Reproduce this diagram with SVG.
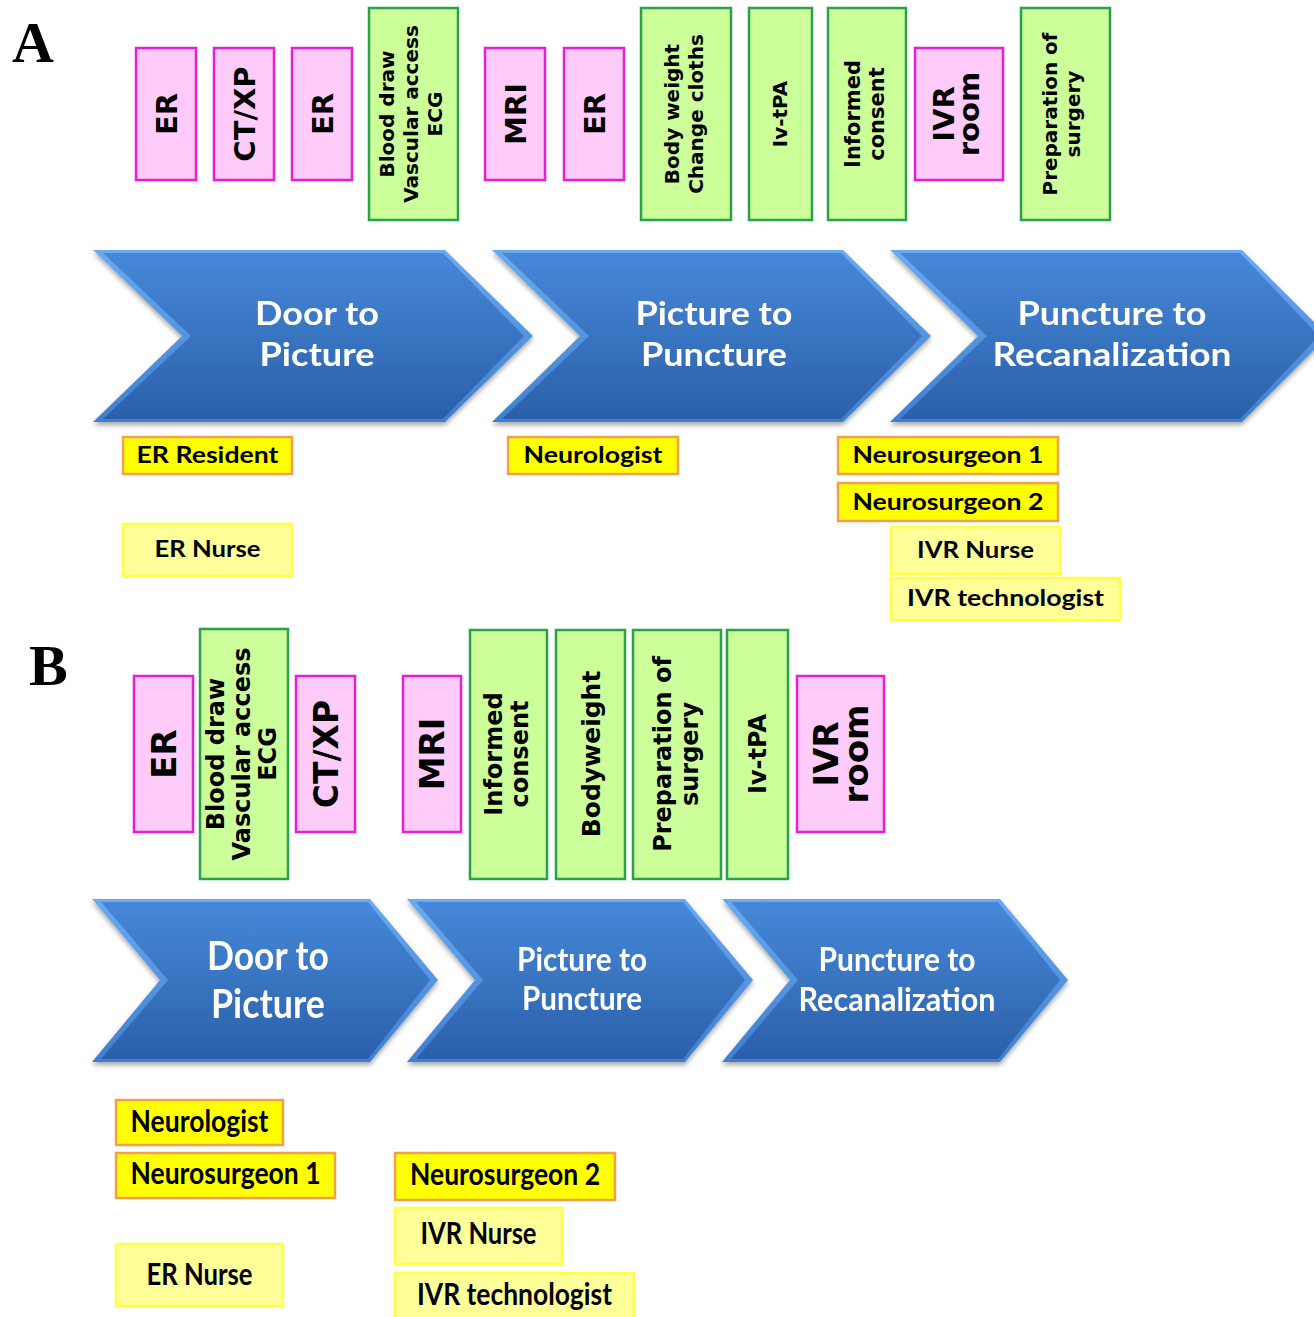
<svg xmlns="http://www.w3.org/2000/svg" width="1314" height="1317" viewBox="0 0 1314 1317">
<style>
.pink{fill:#ffccfa;stroke:#e61ed7;stroke-width:2.5}
.green{fill:#ccff99;stroke:#2aa24a;stroke-width:2.5}
.vt{font-family:"DejaVu Sans",sans-serif;font-weight:bold;fill:#000;text-anchor:middle}
.lblO{fill:#ffff00;stroke:#f0a050;stroke-width:2.5}
.lblY{fill:#ffff99;stroke:#ffff44;stroke-width:2.5}
.lt{font-family:Lato,"Open Sans",sans-serif;font-weight:bold;fill:#000;text-anchor:middle}
.ct{font-family:Lato,"Open Sans",sans-serif;font-weight:bold;fill:#fff;text-anchor:middle}
.panel{font-family:"Liberation Serif",serif;font-weight:bold;font-size:58px;fill:#000}
.bev{fill:url(#bevel)}
.body{fill:url(#blue)}
</style>
<defs>
<linearGradient id="blue" x1="0" y1="0" x2="0" y2="1">
<stop offset="0" stop-color="#4688d8"/>
<stop offset="1" stop-color="#2b60aa"/>
</linearGradient>
<linearGradient id="bevel" x1="0" y1="0" x2="0" y2="1">
<stop offset="0" stop-color="#6aaaf0"/>
<stop offset="1" stop-color="#3f7fcf"/>
</linearGradient>
<filter id="sh" x="-5%" y="-5%" width="110%" height="115%">
<feDropShadow dx="0" dy="3" stdDeviation="2.5" flood-color="#000" flood-opacity="0.35"/>
</filter>
</defs>
<rect width="1314" height="1317" fill="#fff"/>

<text class="panel" x="12" y="62">A</text>
<text class="panel" x="29" y="685">B</text>

<!-- Panel A top boxes -->
<g id="a-er1"><rect class="pink" x="136" y="48" width="60" height="132"/><text class="vt" font-size="29" transform="translate(166,114) rotate(-90)" y="10.5">ER</text></g>
<g id="a-ctxp"><rect class="pink" x="214" y="48" width="60" height="132"/><text class="vt" font-size="29" transform="translate(244,114) rotate(-90)" y="10.5">CT/XP</text></g>
<g id="a-er2"><rect class="pink" x="292" y="48" width="60" height="132"/><text class="vt" font-size="29" transform="translate(322,114) rotate(-90)" y="10.5">ER</text></g>
<g id="a-blood"><rect class="green" x="369" y="8" width="89" height="212"/><text class="vt" font-size="20" transform="translate(411,114) rotate(-90)"><tspan x="0" y="-17">Blood draw</tspan><tspan x="0" y="7">Vascular access</tspan><tspan x="0" y="31">ECG</tspan></text></g>
<g id="a-mri"><rect class="pink" x="485" y="48" width="60" height="132"/><text class="vt" font-size="29" transform="translate(515,114) rotate(-90)" y="10.5">MRI</text></g>
<g id="a-er3"><rect class="pink" x="564" y="48" width="60" height="132"/><text class="vt" font-size="29" transform="translate(594,114) rotate(-90)" y="10.5">ER</text></g>
<g id="a-body"><rect class="green" x="641" y="8" width="90" height="212"/><text class="vt" font-size="20" transform="translate(684,114) rotate(-90)"><tspan x="0" y="-5">Body weight</tspan><tspan x="0" y="19">Change cloths</tspan></text></g>
<g id="a-ivtpa"><rect class="green" x="749" y="8" width="63" height="212"/><text class="vt" font-size="20" transform="translate(780,114) rotate(-90)" y="7">Iv-tPA</text></g>
<g id="a-consent"><rect class="green" x="828" y="8" width="78" height="212"/><text class="vt" font-size="21" transform="translate(865,114) rotate(-90)"><tspan x="0" y="-5">Informed</tspan><tspan x="0" y="19">consent</tspan></text></g>
<g id="a-ivr"><rect class="pink" x="915" y="48" width="88" height="132"/><text class="vt" font-size="29" transform="translate(959,114) rotate(-90)"><tspan x="0" y="-5">IVR</tspan><tspan x="0" y="20">room</tspan></text></g>
<g id="a-prep"><rect class="green" x="1021" y="8" width="89" height="212"/><text class="vt" font-size="20" transform="translate(1065,114) rotate(-90)"><tspan x="0" y="-8">Preparation of</tspan><tspan x="0" y="15">surgery</tspan></text></g>

<!-- Panel A chevrons -->
<g id="a-chev1" filter="url(#sh)">
<polygon class="bev" points="93,250 445,250 533,336 445,422 93,422 182,336"/>
<polygon class="body" points="103,253 443,253 524,336 443,419 103,419 191,336"/>
<text class="ct" font-size="32"><tspan x="317" y="325" textLength="124" lengthAdjust="spacingAndGlyphs">Door to</tspan><tspan x="317" y="366" textLength="115" lengthAdjust="spacingAndGlyphs">Picture</tspan></text>
</g>
<g id="a-chev2" filter="url(#sh)">
<polygon class="bev" points="492,250 843,250 931,336 843,422 492,422 580,336"/>
<polygon class="body" points="502,253 841,253 922,336 841,419 502,419 589,336"/>
<text class="ct" font-size="32"><tspan x="714" y="325" textLength="157" lengthAdjust="spacingAndGlyphs">Picture to</tspan><tspan x="714" y="366" textLength="146" lengthAdjust="spacingAndGlyphs">Puncture</tspan></text>
</g>
<g id="a-chev3" filter="url(#sh)">
<polygon class="bev" points="890,250 1242,250 1328,336 1242,422 890,422 978,336"/>
<polygon class="body" points="900,253 1240,253 1319,336 1240,419 900,419 987,336"/>
<text class="ct" font-size="32"><tspan x="1112" y="325" textLength="189" lengthAdjust="spacingAndGlyphs">Puncture to</tspan><tspan x="1112" y="366" textLength="239" lengthAdjust="spacingAndGlyphs">Recanalization</tspan></text>
</g>

<!-- Panel A staff -->
<g id="a-erres"><rect class="lblO" x="123" y="437" width="169" height="37"/><text class="lt" font-size="23" x="207.5" y="463" textLength="142" lengthAdjust="spacingAndGlyphs">ER Resident</text></g>
<g id="a-neuro"><rect class="lblO" x="508" y="437" width="170" height="37"/><text class="lt" font-size="23" x="593" y="463" textLength="139" lengthAdjust="spacingAndGlyphs">Neurologist</text></g>
<g id="a-ns1"><rect class="lblO" x="838" y="437" width="220" height="37"/><text class="lt" font-size="23" x="948" y="463" textLength="191" lengthAdjust="spacingAndGlyphs">Neurosurgeon 1</text></g>
<g id="a-ns2"><rect class="lblO" x="838" y="483" width="220" height="38"/><text class="lt" font-size="23" x="948" y="510" textLength="191" lengthAdjust="spacingAndGlyphs">Neurosurgeon 2</text></g>
<g id="a-ernurse"><rect class="lblY" x="123" y="524" width="169" height="52"/><text class="lt" font-size="23" x="207.5" y="557" textLength="106" lengthAdjust="spacingAndGlyphs">ER Nurse</text></g>
<g id="a-ivrnurse"><rect class="lblY" x="891" y="527" width="169" height="47"/><text class="lt" font-size="23" x="975.5" y="558" textLength="117" lengthAdjust="spacingAndGlyphs">IVR Nurse</text></g>
<g id="a-ivrtech"><rect class="lblY" x="891" y="578" width="229" height="42"/><text class="lt" font-size="23" x="1005.5" y="606" textLength="197" lengthAdjust="spacingAndGlyphs">IVR technologist</text></g>

<!-- Panel B top boxes -->
<g id="b-er"><rect class="pink" x="134" y="676" width="59" height="156"/><text class="vt" font-size="34" transform="translate(163.5,754) rotate(-90)" y="12">ER</text></g>
<g id="b-blood"><rect class="green" x="200" y="629" width="88" height="250"/><text class="vt" font-size="24" transform="translate(241,754) rotate(-90)"><tspan x="0" y="-17.5">Blood draw</tspan><tspan x="0" y="8.5">Vascular access</tspan><tspan x="0" y="34.5">ECG</tspan></text></g>
<g id="b-ctxp"><rect class="pink" x="296" y="676" width="59" height="156"/><text class="vt" font-size="33" transform="translate(325.5,754) rotate(-90)" y="12">CT/XP</text></g>
<g id="b-mri"><rect class="pink" x="403" y="676" width="58" height="156"/><text class="vt" font-size="34" transform="translate(432,754) rotate(-90)" y="12">MRI</text></g>
<g id="b-consent"><rect class="green" x="470" y="630" width="77" height="249"/><text class="vt" font-size="24" transform="translate(506,754) rotate(-90)"><tspan x="0" y="-4.5">Informed</tspan><tspan x="0" y="21.5">consent</tspan></text></g>
<g id="b-body"><rect class="green" x="556" y="630" width="69" height="249"/><text class="vt" font-size="25" transform="translate(590.5,754) rotate(-90)" y="9">Bodyweight</text></g>
<g id="b-prep"><rect class="green" x="633" y="630" width="88" height="249"/><text class="vt" font-size="24" transform="translate(677,754) rotate(-90)"><tspan x="0" y="-6">Preparation of</tspan><tspan x="0" y="21">surgery</tspan></text></g>
<g id="b-ivtpa"><rect class="green" x="727" y="630" width="61" height="249"/><text class="vt" font-size="24" transform="translate(757.5,754) rotate(-90)" y="8.5">Iv-tPA</text></g>
<g id="b-ivr"><rect class="pink" x="797" y="676" width="87" height="156"/><text class="vt" font-size="34" transform="translate(840.5,754) rotate(-90)"><tspan x="0" y="-3">IVR</tspan><tspan x="0" y="27">room</tspan></text></g>

<!-- Panel B chevrons -->
<g id="b-chev1" filter="url(#sh)">
<polygon class="bev" points="92,899 370,899 438,980 370,1062 92,1062 160,980"/>
<polygon class="body" points="101,902 368,902 430,980 368,1059 101,1059 168,980"/>
<text class="ct" font-size="40"><tspan x="268" y="970" textLength="122" lengthAdjust="spacingAndGlyphs">Door to</tspan><tspan x="268" y="1018" textLength="114" lengthAdjust="spacingAndGlyphs">Picture</tspan></text>
</g>
<g id="b-chev2" filter="url(#sh)">
<polygon class="bev" points="407,899 685,899 753,980 685,1062 407,1062 475,980"/>
<polygon class="body" points="416,902 683,902 745,980 683,1059 416,1059 483,980"/>
<text class="ct" font-size="32"><tspan x="582" y="971" textLength="130" lengthAdjust="spacingAndGlyphs">Picture to</tspan><tspan x="582" y="1010" textLength="120" lengthAdjust="spacingAndGlyphs">Puncture</tspan></text>
</g>
<g id="b-chev3" filter="url(#sh)">
<polygon class="bev" points="722,899 1000,899 1068,980 1000,1062 722,1062 790,980"/>
<polygon class="body" points="731,902 998,902 1060,980 998,1059 731,1059 798,980"/>
<text class="ct" font-size="32"><tspan x="897" y="971" textLength="157" lengthAdjust="spacingAndGlyphs">Puncture to</tspan><tspan x="897" y="1011" textLength="197" lengthAdjust="spacingAndGlyphs">Recanalization</tspan></text>
</g>

<!-- Panel B staff -->
<g id="b-neuro"><rect class="lblO" x="116" y="1100" width="167" height="45"/><text class="lt" font-size="30" x="199.5" y="1132" textLength="138" lengthAdjust="spacingAndGlyphs">Neurologist</text></g>
<g id="b-ns1"><rect class="lblO" x="116" y="1153" width="219" height="45"/><text class="lt" font-size="30" x="225.5" y="1184" textLength="190" lengthAdjust="spacingAndGlyphs">Neurosurgeon 1</text></g>
<g id="b-ernurse"><rect class="lblY" x="116" y="1244" width="167" height="62"/><text class="lt" font-size="30" x="199.5" y="1285" textLength="106" lengthAdjust="spacingAndGlyphs">ER Nurse</text></g>
<g id="b-ns2"><rect class="lblO" x="395" y="1153" width="220" height="47"/><text class="lt" font-size="30" x="505" y="1185" textLength="190" lengthAdjust="spacingAndGlyphs">Neurosurgeon 2</text></g>
<g id="b-ivrnurse"><rect class="lblY" x="395" y="1208" width="167" height="56"/><text class="lt" font-size="30" x="478.5" y="1244" textLength="116" lengthAdjust="spacingAndGlyphs">IVR Nurse</text></g>
<g id="b-ivrtech"><rect class="lblY" x="395" y="1273" width="239" height="50"/><text class="lt" font-size="30" x="514.5" y="1305" textLength="195" lengthAdjust="spacingAndGlyphs">IVR technologist</text></g>

<g id="connectors"/>
</svg>
